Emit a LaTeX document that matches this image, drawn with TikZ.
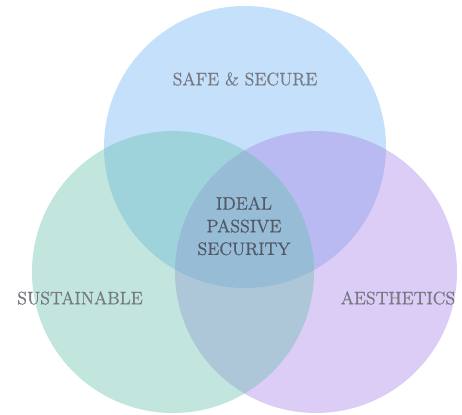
\documentclass[tikz,border=0pt]{standalone}
\usepackage{fontspec}
\usepackage{tikz}
\usetikzlibrary{positioning}

\newfontfamily\vennfont[FakeBold=0.7]{Latin Modern Roman}

\definecolor{safeblue}{RGB}{110,177,242}
\definecolor{sustgreen}{RGB}{102,192,172}
\definecolor{aestviolet}{RGB}{167,130,232}
\definecolor{lblgray}{RGB}{118,121,130}
\definecolor{midgray}{RGB}{82,88,102}

\begin{document}
\begin{tikzpicture}[
  x=0.75pt, y=-0.75pt,
  circ/.style={circle, minimum size=211.5pt, inner sep=0pt, fill opacity=0.4},
  lbl/.style={font=\vennfont\fontsize{13.5}{17}\selectfont, text=lblgray, align=center},
]
\useasboundingbox (0,0) rectangle (462,415);

\node[circ, fill=safeblue] (safe) at (245,147) {};
\node[circ, fill=aestviolet] (aesth) at (316,272) {};
\node[circ, fill=sustgreen] (sustain) at (173,272) {};

\node[lbl] (safelbl) at (245,79) {SAFE \& SECURE};
\node[lbl] (sustlbl) at (80,298) {SUSTAINABLE};
\node[lbl] (aestlbl) at (398,298) {AESTHETICS};
\node[lbl, text=midgray] (ideal) at (244,226) {IDEAL\\PASSIVE\\SECURITY};

\end{tikzpicture}
\end{document}
